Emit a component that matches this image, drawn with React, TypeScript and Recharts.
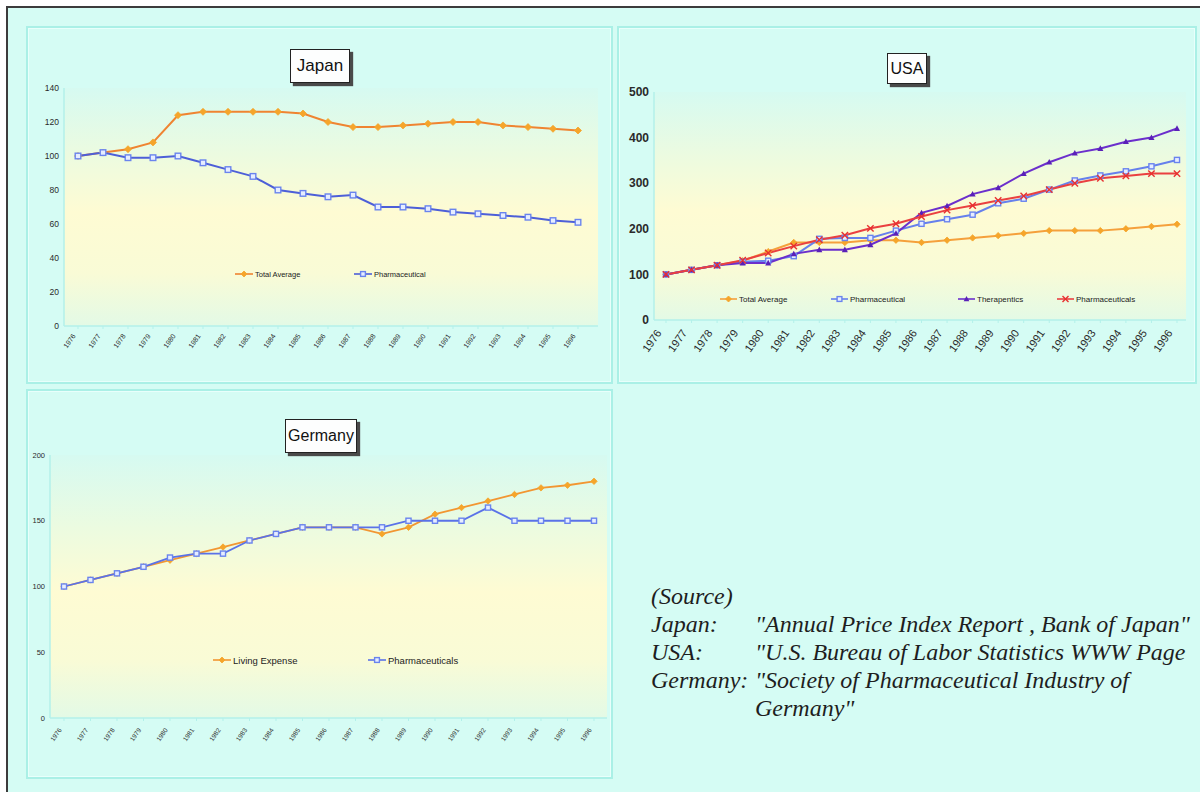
import React from "react"
import { LineChart, Line, XAxis, YAxis, CartesianGrid } from "recharts"

// Price index trends, 1976 = 100

const years = [
  "1976", "1977", "1978", "1979", "1980", "1981", "1982", "1983", "1984", "1985", "1986",
  "1987", "1988", "1989", "1990", "1991", "1992", "1993", "1994", "1995", "1996",
]

const japanTotalAverage = [100, 102, 104, 108, 124, 126, 126, 126, 126, 125, 120, 117, 117, 118, 119, 120, 120, 118, 117, 116, 115]
const japanPharmaceutical = [100, 102, 99, 99, 100, 96, 92, 88, 80, 78, 76, 77, 70, 70, 69, 67, 66, 65, 64, 62, 61]

const usaTotalAverage = [100, 110, 120, 130, 150, 170, 170, 170, 175, 175, 170, 175, 180, 185, 190, 196, 196, 196, 200, 205, 210]
const usaPharmaceutical = [100, 110, 120, 128, 130, 140, 178, 180, 180, 196, 211, 221, 231, 256, 266, 286, 306, 317, 326, 337, 351]
const usaTherapentics = [100, 110, 120, 125, 125, 145, 154, 154, 165, 190, 235, 250, 276, 290, 321, 346, 366, 376, 391, 400, 420]
const usaPharmaceuticals = [100, 110, 120, 131, 147, 162, 176, 186, 201, 211, 227, 241, 251, 262, 272, 286, 300, 311, 316, 321, 321]

const germanyLivingExpense = [100, 105, 110, 115, 120, 125, 130, 135, 140, 145, 145, 145, 140, 145, 155, 160, 165, 170, 175, 177, 180]
const germanyPharmaceuticals = [100, 105, 110, 115, 122, 125, 125, 135, 140, 145, 145, 145, 145, 150, 150, 150, 160, 150, 150, 150, 150]

const japanTicks = [0, 20, 40, 60, 80, 100, 120, 140]
const usaTicks = [0, 100, 200, 300, 400, 500]
const germanyTicks = [0, 50, 100, 150, 200]

const sourceRows = [
  ["Japan:", "\"Annual Price Index Report , Bank of Japan\""],
  ["USA:", "\"U.S. Bureau of Labor Statistics WWW Page"],
  ["Germany:", "\"Society of Pharmaceutical Industry of"],
  ["", "Germany\""],
]

const SANS = "'Liberation Sans', Arial, sans-serif"
const SERIF = "'Liberation Serif', 'Times New Roman', serif"
const BG = "#d5fcf4"
const AXIS = "#b3f1ea"
const FRAME = 8

type MarkerKind = "diamond" | "square" | "triangle" | "cross"

interface Series {
  key: string
  name: string
  values: number[]
  stroke: string
  marker: MarkerKind
  markerColor: string
}

const pos = (x: number, y: number) => ({ position: "absolute" as const, left: x - FRAME, top: y - FRAME })

function Marker({ kind, x, y, color, size }: { kind: MarkerKind; x: number; y: number; color: string; size: number }) {
  const s = size
  if (kind === "diamond")
    return <path d={`M${x},${y - s}L${x + s},${y}L${x},${y + s}L${x - s},${y}Z`} fill={color} stroke={color} strokeWidth={0.8} />
  if (kind === "square")
    return <rect x={x - s * 0.8} y={y - s * 0.8} width={s * 1.6} height={s * 1.6} fill="#e6edff" stroke={color} strokeWidth={1.4} />
  if (kind === "triangle")
    return <path d={`M${x},${y - s}L${x + s * 0.95},${y + s * 0.75}L${x - s * 0.95},${y + s * 0.75}Z`} fill={color} />
  return (
    <g stroke={color} strokeWidth={1.4}>
      <line x1={x - s} y1={y - s} x2={x + s} y2={y + s} />
      <line x1={x - s} y1={y + s} x2={x + s} y2={y - s} />
    </g>
  )
}

const buildRows = (series: Series[]) =>
  years.map((year, i) => {
    const row: Record<string, string | number> = { year }
    series.forEach((s) => (row[s.key] = s.values[i]))
    return row
  })

interface ChartProps {
  id: string
  title: string
  titleBox: [number, number, number, number]
  titleSize: number
  series: Series[]
  ticks: number[]
  x: number
  y: number
  width: number
  height: number
  yAxisWidth: number
  xAxisHeight: number
  marginTop: number
  marginRight: number
  padLeft: number
  padRight: number
  yFont: number
  yWeight?: number
  xFont: number
  xLabel: { dx: number; dy: number; angle: number }
  legend: { y: number; xs: number[]; lineW: number; font: number }
  lineWidth: number
  markerSize: number
}

function CountryChart(p: ChartProps) {
  const gid = `plot-bg-${p.id}`
  const [tx, ty, tw, th] = p.titleBox
  return (
    <>
      <div
        style={{
          ...pos(tx, ty),
          width: tw,
          height: th,
          boxSizing: "border-box",
          background: "#fdfefe",
          border: "1px solid #222",
          boxShadow: "3px 3px 1px #4a4a4a",
          fontFamily: SANS,
          fontSize: p.titleSize,
          color: "#111",
          display: "flex",
          alignItems: "center",
          justifyContent: "center",
          zIndex: 2,
        }}
      >
        {p.title}
      </div>
      <div style={pos(p.x, p.y)}>
        <LineChart
          width={p.width}
          height={p.height}
          data={buildRows(p.series)}
          margin={{ top: p.marginTop, right: p.marginRight, left: 0, bottom: 0 }}
        >
          <defs>
            <linearGradient id={gid} x1="0" y1="0" x2="0" y2="1">
              <stop offset="0%" stopColor="#d6faf1" />
              <stop offset="28%" stopColor="#ecfbe0" />
              <stop offset="52%" stopColor="#fefbd3" />
              <stop offset="78%" stopColor="#f9fbd6" />
              <stop offset="100%" stopColor="#e3fae6" />
            </linearGradient>
          </defs>
          <CartesianGrid horizontal={false} vertical={false} fill={`url(#${gid})`} fillOpacity={1} />
          <XAxis
            dataKey="year"
            interval={0}
            height={p.xAxisHeight}
            padding={{ left: p.padLeft, right: p.padRight }}
            axisLine={{ stroke: AXIS, strokeWidth: 1.5 }}
            tickLine={{ stroke: AXIS }}
            tickSize={3}
            tickMargin={2}
            tick={(t: any) => {
              const lx = t.x + p.xLabel.dx
              const ly = t.y + p.xLabel.dy
              return (
                <text
                  key={`xt-${t.index}`}
                  x={lx}
                  y={ly}
                  transform={`rotate(${p.xLabel.angle} ${lx} ${ly})`}
                  textAnchor="end"
                  fontSize={p.xFont}
                  fontFamily={SANS}
                  fill="#2a2a2a"
                >
                  {t.payload.value}
                </text>
              )
            }}
          />
          <YAxis
            domain={[p.ticks[0], p.ticks[p.ticks.length - 1]]}
            ticks={p.ticks}
            interval={0}
            width={p.yAxisWidth}
            axisLine={{ stroke: AXIS, strokeWidth: 1.5 }}
            tickLine={false}
            tickSize={2}
            tickMargin={3}
            tick={{ fontSize: p.yFont, fontWeight: p.yWeight ?? 400, fill: "#2a2a2a", fontFamily: SANS }}
          />
          {p.series.map((s) => (
            <Line
              key={s.key}
              type="linear"
              dataKey={s.key}
              name={s.name}
              stroke={s.stroke}
              strokeWidth={p.lineWidth}
              dot={(d: any) => (
                <Marker key={`${s.key}-${d.index}`} kind={s.marker} x={d.cx} y={d.cy} color={s.markerColor} size={p.markerSize} />
              )}
              activeDot={false}
              isAnimationActive={false}
            />
          ))}
        </LineChart>
      </div>
      {p.series.map((s, i) => (
        <div
          key={`lg-${s.key}`}
          style={{
            ...pos(p.legend.xs[i], p.legend.y - 8),
            height: 16,
            display: "flex",
            alignItems: "center",
            whiteSpace: "nowrap",
            fontFamily: SANS,
            fontSize: p.legend.font,
            color: "#222",
          }}
        >
          <svg width={p.legend.lineW} height={12} style={{ marginRight: 2 }}>
            <line x1={0} y1={6} x2={p.legend.lineW} y2={6} stroke={s.stroke} strokeWidth={1.6} />
            <Marker kind={s.marker} x={p.legend.lineW / 2} y={6} color={s.markerColor} size={3} />
          </svg>
          {s.name}
        </div>
      ))}
    </>
  )
}

const japanSeries: Series[] = [
  { key: "total", name: "Total Average", values: japanTotalAverage, stroke: "#ef8431", marker: "diamond", markerColor: "#f5a52b" },
  { key: "pharma", name: "Pharmaceutical", values: japanPharmaceutical, stroke: "#4d5fd8", marker: "square", markerColor: "#6a84ee" },
]

const usaSeries: Series[] = [
  { key: "total", name: "Total Average", values: usaTotalAverage, stroke: "#f5a03c", marker: "diamond", markerColor: "#f5a52b" },
  { key: "pharma", name: "Pharmaceutical", values: usaPharmaceutical, stroke: "#6680ec", marker: "square", markerColor: "#6a84ee" },
  { key: "thera", name: "Therapentics", values: usaTherapentics, stroke: "#6b2fcc", marker: "triangle", markerColor: "#5a20b8" },
  { key: "pharmas", name: "Pharmaceuticals", values: usaPharmaceuticals, stroke: "#ea4040", marker: "cross", markerColor: "#e83030" },
]

const germanySeries: Series[] = [
  { key: "living", name: "Living Expense", values: germanyLivingExpense, stroke: "#f29632", marker: "diamond", markerColor: "#f5a52b" },
  { key: "pharma", name: "Pharmaceuticals", values: germanyPharmaceuticals, stroke: "#5a72e8", marker: "square", markerColor: "#6a84ee" },
]

const panelStyle = {
  boxSizing: "border-box" as const,
  border: "2px solid #aaf0e6",
  boxShadow: "inset 0 0 0 1px #e8fffb",
  background: BG,
}

export default function App() {
  return (
    <div
      style={{
        position: "fixed",
        left: 6,
        top: 6,
        width: 1210,
        height: 800,
        borderTop: "2px solid #3c3c3c",
        borderLeft: "2px solid #3c3c3c",
        background: BG,
        overflow: "hidden",
      }}
    >
      <div style={{ ...pos(26, 26), ...panelStyle, width: 587, height: 358 }} />
      <div style={{ ...pos(617, 26), ...panelStyle, width: 580, height: 358 }} />
      <div style={{ ...pos(26, 389), ...panelStyle, width: 587, height: 390 }} />

      <CountryChart
        id="jp"
        title="Japan"
        titleBox={[290, 49, 60, 34]}
        titleSize={17}
        series={japanSeries}
        ticks={japanTicks}
        x={30}
        y={80}
        width={578}
        height={270}
        yAxisWidth={34}
        xAxisHeight={24}
        marginTop={8}
        marginRight={10}
        padLeft={14}
        padRight={20}
        yFont={8.5}
        xFont={7}
        xLabel={{ dx: -2, dy: 5, angle: -55 }}
        legend={{ y: 274, xs: [235, 354], lineW: 18, font: 7.5 }}
        lineWidth={2}
        markerSize={3.5}
      />

      <CountryChart
        id="us"
        title="USA"
        titleBox={[887, 53, 40, 31]}
        titleSize={16}
        series={usaSeries}
        ticks={usaTicks}
        x={620}
        y={84}
        width={575}
        height={288}
        yAxisWidth={34}
        xAxisHeight={52}
        marginTop={8}
        marginRight={9}
        padLeft={12}
        padRight={9}
        yFont={12}
        yWeight={600}
        xFont={11}
        xLabel={{ dx: -4, dy: 8, angle: -55 }}
        legend={{ y: 299, xs: [720, 831, 958, 1057], lineW: 17, font: 8 }}
        lineWidth={2}
        markerSize={3.2}
      />

      <CountryChart
        id="de"
        title="Germany"
        titleBox={[285, 419, 72, 34]}
        titleSize={16}
        series={germanySeries}
        ticks={germanyTicks}
        x={28}
        y={447}
        width={582}
        height={303}
        yAxisWidth={22}
        xAxisHeight={32}
        marginTop={8}
        marginRight={3}
        padLeft={14}
        padRight={13}
        yFont={7.5}
        xFont={6.5}
        xLabel={{ dx: -2, dy: 7, angle: -55 }}
        legend={{ y: 660, xs: [213, 368], lineW: 18, font: 9.5 }}
        lineWidth={1.8}
        markerSize={3.2}
      />

      <div
        style={{
          ...pos(651, 582),
          fontFamily: SERIF,
          fontStyle: "italic",
          fontSize: 24,
          lineHeight: "28px",
          color: "#1e1e1e",
          whiteSpace: "nowrap",
        }}
      >
        <div>(Source)</div>
        {sourceRows.map(([label, text], i) => (
          <div key={i} style={{ display: "flex" }}>
            <span style={{ width: 104, display: "inline-block" }}>{label}</span>
            <span>{text}</span>
          </div>
        ))}
      </div>
    </div>
  )
}
